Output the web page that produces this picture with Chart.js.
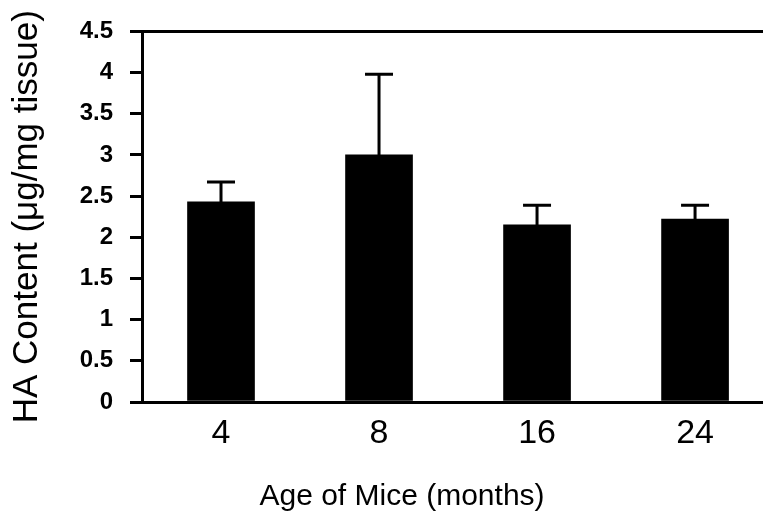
<!DOCTYPE html>
<html>
<head>
<meta charset="utf-8">
<script src="https://cdn.jsdelivr.net/npm/chart.js@4/dist/chart.umd.min.js"></script>
<style>
  html, body { margin: 0; padding: 0; background: #ffffff; }
  #wrap { width: 763px; height: 514px; }
</style>
</head>
<body>
<div id="wrap"><canvas id="c" width="763" height="514"></canvas></div>
<script>
// ---- data ----
const categories = ['4', '8', '16', '24'];
const means = [2.43, 3.00, 2.15, 2.22];
const upperErrors = [2.67, 3.98, 2.39, 2.39];
const yMin = 0, yMax = 4.5, yStep = 0.5;
const xTitle = 'Age of Mice (months)';
const yTitle = 'HA Content (μg/mg tissue)';

const SANS = "'Liberation Sans', Arial, Helvetica, sans-serif";

const errorBars = {
  id: 'errorBars',
  afterDatasetsDraw(chart) {
    const { ctx, scales: { x, y } } = chart;
    ctx.save();
    ctx.strokeStyle = '#000';
    ctx.lineWidth = 3;
    ctx.lineCap = 'butt';
    means.forEach((m, i) => {
      const px = x.getPixelForValue(i);
      const top = y.getPixelForValue(upperErrors[i]);
      const base = y.getPixelForValue(m);
      ctx.beginPath();
      ctx.moveTo(px, base);
      ctx.lineTo(px, top);
      ctx.moveTo(px - 14, top);
      ctx.lineTo(px + 14, top);
      ctx.stroke();
    });
    ctx.restore();
  }
};

// x-axis title, centred where the reference places it
const xAxisTitle = {
  id: 'xAxisTitle',
  afterDraw(chart) {
    const { ctx } = chart;
    ctx.save();
    ctx.fillStyle = '#000';
    ctx.font = '30px ' + SANS;
    ctx.textAlign = 'center';
    ctx.textBaseline = 'alphabetic';
    ctx.fillText(xTitle, 402, 505);
    ctx.restore();
  }
};

new Chart(document.getElementById('c').getContext('2d'), {
  type: 'bar',
  data: {
    datasets: [{
      data: means.map((v, i) => ({ x: i, y: v })),
      backgroundColor: '#000000',
      borderWidth: 0,
      barThickness: 67
    }]
  },
  plugins: [errorBars, xAxisTitle],
  options: {
    responsive: false,
    animation: false,
    devicePixelRatio: 1,
    layout: { padding: { top: 23, left: 0, right: 0, bottom: 0 } },
    plugins: { legend: { display: false }, tooltip: { enabled: false } },
    scales: {
      x: {
        type: 'linear',
        min: -0.5,
        max: 3.43,
        offset: false,
        afterBuildTicks(s) { s.ticks = categories.map((_, i) => ({ value: i })); },
        afterFit(s) { s.height = 112; },
        ticks: {
          callback: (v) => categories[v],
          font: { family: SANS, size: 34 },
          color: '#000',
          padding: 3,
          autoSkip: false,
          maxRotation: 0
        },
        grid: { display: false },
        border: { display: true, color: '#000', width: 3 }
      },
      y: {
        min: yMin,
        max: yMax,
        afterFit(s) { s.width = 142; },
        ticks: {
          stepSize: yStep,
          callback: (v) => String(v),
          color: '#000',
          font: { family: SANS, size: 24, weight: 'bold' },
          padding: 17
        },
        grid: {
          drawOnChartArea: true,
          color: (c) => (c.tick && c.tick.value === yMax) ? '#000' : 'rgba(0,0,0,0)',
          tickColor: '#000',
          tickLength: 12,
          lineWidth: 3,
          tickWidth: 3
        },
        border: { display: true, color: '#000', width: 3 },
        title: {
          display: true,
          text: yTitle,
          color: '#000',
          font: { family: SANS, size: 35 },
          padding: { top: 6, bottom: 0 }
        }
      }
    }
  }
});
</script>
</body>
</html>
